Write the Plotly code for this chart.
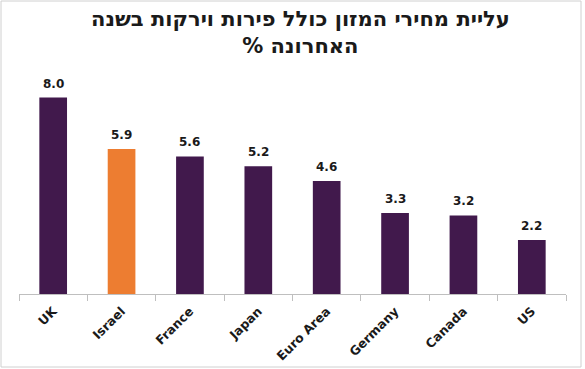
import plotly.graph_objects as go

categories = ["UK", "Israel", "France", "Japan", "Euro Area", "Germany", "Canada", "US"]
values = [8.0, 5.9, 5.6, 5.2, 4.6, 3.3, 3.2, 2.2]
highlight = "Israel"
title_line1 = "עליית מחירי המזון כולל פירות וירקות בשנה"
title_line2 = "האחרונה %\u200f"

PURPLE = "#41194C"
ORANGE = "#ED7D31"
colors = [ORANGE if c == highlight else PURPLE for c in categories]

W, H = 585, 369
L, R, T, B = 19, 19, 73, 75
pw, ph = W - L - R, H - T - B

def px_to_paper_x(px):
    return (px - L) / pw

def py_to_paper_y(py):
    return (H - B - py) / ph

fig = go.Figure(go.Bar(
    x=categories, y=values,
    marker=dict(color=colors, line=dict(width=0)),
    hoverinfo="skip",
))

annotations = [
    dict(x=c, y=v, xref="x", yref="y", text=f"<b>{v:.1f}</b>", showarrow=False,
         yanchor="bottom", yshift=5,
         font=dict(family="DejaVu Sans", size=12, color="#1A1A1A"))
    for c, v in zip(categories, values)
]
annotations.append(dict(
    x=px_to_paper_x(300), y=py_to_paper_y(5), xref="paper", yref="paper",
    xanchor="center", yanchor="top", showarrow=False,
    text=f"<b>{title_line1}<br>{title_line2}</b>",
    font=dict(family="DejaVu Sans", size=21, color="#1A1A1A"),
))

fig.update_layout(
    width=W, height=H,
    margin=dict(l=L, r=R, t=T, b=B, autoexpand=False),
    paper_bgcolor="white", plot_bgcolor="white",
    bargap=0.595,
    showlegend=False,
    annotations=annotations,
    xaxis=dict(
        type="category",
        automargin=False,
        tickson="boundaries",
        ticks="outside", ticklen=6, tickcolor="#BFBFBF", tickwidth=1,
        showline=True, linecolor="#BFBFBF", linewidth=1,
        tickangle=-45,
        ticklabelstandoff=4,
        tickfont=dict(family="DejaVu Sans", size=12.5, color="#1A1A1A", weight="bold"),
        showgrid=False,
    ),
    yaxis=dict(range=[0, 9], visible=False, showgrid=False, zeroline=False,
               automargin=False),
    shapes=[dict(
        type="rect", xref="paper", yref="paper",
        x0=px_to_paper_x(1), x1=px_to_paper_x(581),
        y0=py_to_paper_y(367), y1=py_to_paper_y(1),
        line=dict(color="#D0D0D0", width=1), fillcolor="rgba(0,0,0,0)",
        layer="below",
    )],
)

fig.write_html("out.html", config={"displayModeBar": False},
               post_script="document.body.style.margin='0';")
